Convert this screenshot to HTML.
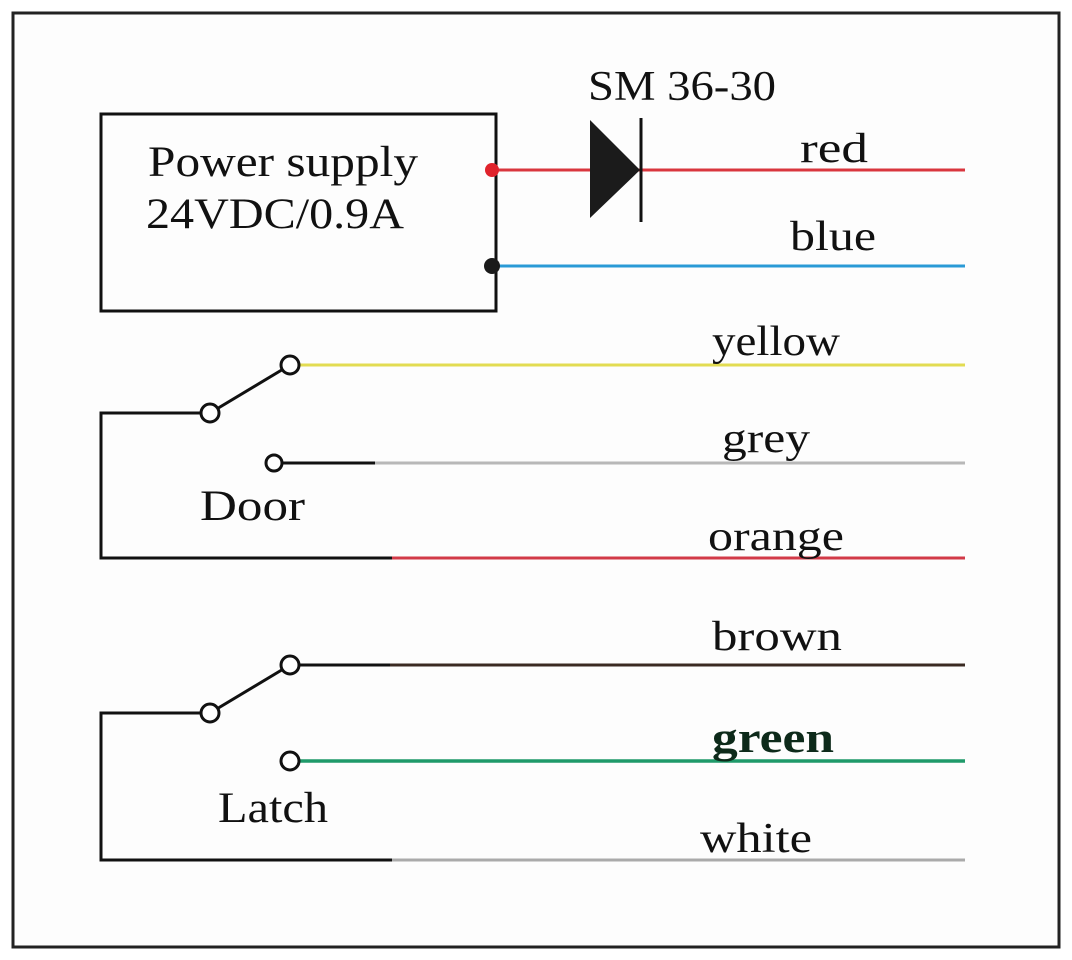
<!DOCTYPE html>
<html><head><style>
html,body{margin:0;padding:0;background:#fff;}
svg{display:block;}
text{font-family:"Liberation Serif",serif;fill:#111;}
</style></head><body>
<svg width="1072" height="960" viewBox="0 0 1072 960" xmlns="http://www.w3.org/2000/svg">
<rect x="0" y="0" width="1072" height="960" fill="#fff"/>
<rect x="13" y="13" width="1046" height="934" fill="#fdfdfd" stroke="#222" stroke-width="3"/>
<!-- PSU -->
<rect x="101" y="114" width="395" height="197" fill="none" stroke="#111" stroke-width="3"/>
<text x="148" y="176" font-size="43" textLength="270" lengthAdjust="spacingAndGlyphs">Power supply</text>
<text x="146" y="228" font-size="43" textLength="258" lengthAdjust="spacingAndGlyphs">24VDC/0.9A</text>
<line x1="492" y1="170" x2="965" y2="170" stroke="#d9363e" stroke-width="3"/>
<circle cx="492" cy="170" r="7" fill="#e0232c"/>
<polygon points="590,120 590,218 640,170" fill="#1b1b1b"/>
<line x1="641" y1="118" x2="641" y2="222" stroke="#111" stroke-width="3"/>
<text x="588" y="100" font-size="42" textLength="188" lengthAdjust="spacingAndGlyphs">SM 36-30</text>
<text x="800" y="162" font-size="42" textLength="68" lengthAdjust="spacingAndGlyphs">red</text>
<line x1="492" y1="266" x2="965" y2="266" stroke="#2a9ad6" stroke-width="3"/>
<circle cx="492" cy="266" r="8" fill="#1a1a1a"/>
<text x="790" y="250" font-size="42" textLength="86" lengthAdjust="spacingAndGlyphs">blue</text>
<!-- Door -->
<line x1="300" y1="365" x2="965" y2="365" stroke="#e2dc52" stroke-width="3"/>
<text x="712" y="355" font-size="42" textLength="128" lengthAdjust="spacingAndGlyphs">yellow</text>
<line x1="210" y1="413" x2="290" y2="365" stroke="#111" stroke-width="3"/>
<polyline points="201,413 101,413 101,558 392,558" fill="none" stroke="#111" stroke-width="3"/>
<line x1="392" y1="558" x2="965" y2="558" stroke="#d23a48" stroke-width="3"/>
<circle cx="290" cy="365" r="9" fill="#fff" stroke="#111" stroke-width="3"/>
<circle cx="210" cy="413" r="9" fill="#fff" stroke="#111" stroke-width="3"/>
<line x1="282" y1="463" x2="375" y2="463" stroke="#111" stroke-width="3"/>
<line x1="375" y1="463" x2="965" y2="463" stroke="#b8b8b8" stroke-width="3"/>
<circle cx="274" cy="463" r="8" fill="#fff" stroke="#111" stroke-width="3"/>
<text x="722" y="452" font-size="42" textLength="88" lengthAdjust="spacingAndGlyphs">grey</text>
<text x="200" y="520" font-size="43" textLength="105" lengthAdjust="spacingAndGlyphs">Door</text>
<text x="708" y="550" font-size="42" textLength="136" lengthAdjust="spacingAndGlyphs">orange</text>
<!-- Latch -->
<line x1="299" y1="665" x2="390" y2="665" stroke="#111" stroke-width="3"/>
<line x1="390" y1="665" x2="965" y2="665" stroke="#3a2a22" stroke-width="3"/>
<text x="712" y="650" font-size="42" textLength="130" lengthAdjust="spacingAndGlyphs">brown</text>
<line x1="210" y1="713" x2="290" y2="665" stroke="#111" stroke-width="3"/>
<polyline points="201,713 101,713 101,860 392,860" fill="none" stroke="#111" stroke-width="3"/>
<line x1="392" y1="860" x2="965" y2="860" stroke="#aaa" stroke-width="3"/>
<circle cx="290" cy="665" r="9" fill="#fff" stroke="#111" stroke-width="3"/>
<circle cx="210" cy="713" r="9" fill="#fff" stroke="#111" stroke-width="3"/>
<line x1="299" y1="761" x2="965" y2="761" stroke="#1f9a6a" stroke-width="3.5"/>
<circle cx="290" cy="761" r="9" fill="#fff" stroke="#111" stroke-width="3"/>
<text x="712" y="752" font-size="43" font-weight="bold" textLength="122" lengthAdjust="spacingAndGlyphs" style="fill:#0d2a1a">green</text>
<text x="218" y="822" font-size="43" textLength="110" lengthAdjust="spacingAndGlyphs">Latch</text>
<text x="700" y="852" font-size="42" textLength="112" lengthAdjust="spacingAndGlyphs">white</text>
</svg>
</body></html>
